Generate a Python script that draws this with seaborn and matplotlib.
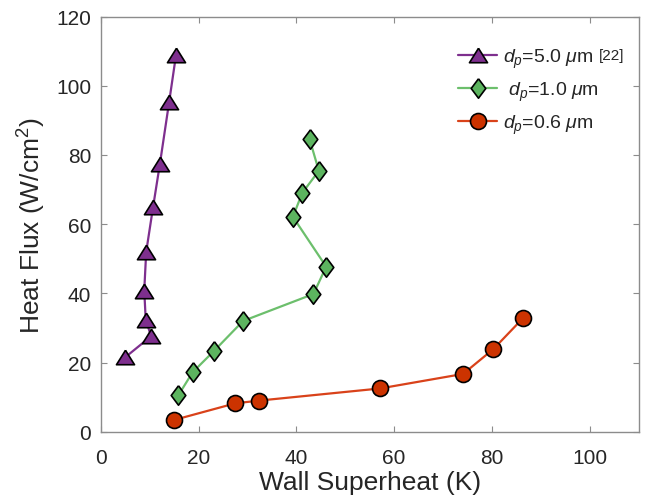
import numpy as np
import matplotlib
matplotlib.use("Agg")
import matplotlib.pyplot as plt
import seaborn as sns

# === data ===
x_50 = [5.0, 10.3, 9.2, 8.9, 9.3, 10.7, 12.1, 14.0, 15.4]
y_50 = [21.5, 27.6, 32.4, 40.8, 52.0, 64.9, 77.4, 95.4, 108.9]

x_10 = [15.9, 18.8, 23.2, 29.1, 43.5, 46.1, 39.3, 41.2, 44.6, 42.7]
y_10 = [10.6, 17.2, 23.4, 32.0, 39.8, 47.7, 62.1, 69.0, 75.4, 84.6]

x_06 = [15.0, 27.5, 32.4, 57.1, 74.1, 80.3, 86.4]
y_06 = [3.4, 8.2, 9.0, 12.5, 16.7, 23.9, 32.9]

labels = [r"$d_p$=5.0 $\mu$m", r" $d_p$=1.0 $\mu$m", r"$d_p$=0.6 $\mu$m"]
ref_tag = "[22]"
xticks = [0, 20, 40, 60, 80, 100]
yticks = [0, 20, 40, 60, 80, 100, 120]

sns.set_theme(style="white")
plt.rcParams["font.family"] = ["Liberation Sans", "DejaVu Sans"]
plt.rcParams["mathtext.fontset"] = "custom"
plt.rcParams["mathtext.rm"] = "Liberation Sans"
plt.rcParams["mathtext.it"] = "Liberation Sans:italic"

# MATLAB-like marker shapes
tri = [(0, 0.8), (-1, -0.8), (1, -0.8), (0, 0.8)]
dia = [(0, 1), (0.75, 0), (0, -1), (-0.75, 0), (0, 1)]

fig = plt.figure(figsize=(6.49, 5.02), dpi=100)
ax = fig.add_axes([0.1552, 0.138, 0.8289, 0.8271])

series = [
    (x_50, y_50, "#7e2f8e", "#7e2f8e", tri, 13, labels[0]),
    (x_10, y_10, "#6cbf6c", "#5cb45f", dia, 14, labels[1]),
    (x_06, y_06, "#d9421a", "#cc3300", "o", 11.5, labels[2]),
]
for xs, ys, lc, fc, mk, ms, lab in series:
    sns.lineplot(x=xs, y=ys, ax=ax, sort=False, estimator=None, color=lc,
                 linewidth=1.6, marker=mk, markersize=ms, markerfacecolor=fc,
                 markeredgecolor="black", markeredgewidth=1.2, label=lab)

ax.set_xlim(0, 110)
ax.set_ylim(0, 120)
ax.set_xticks(xticks)
ax.set_yticks(yticks)
ax.tick_params(direction="in", length=4, width=0.8, colors="#8c8c8c",
               labelcolor="#262626", labelsize=15, top=True, right=True,
               bottom=True, left=True)
ax.tick_params(axis="x", pad=12)
ax.tick_params(axis="y", pad=7)
for s in ax.spines.values():
    s.set_color("#8c8c8c")
    s.set_linewidth(1.0)
ax.set_xlabel("Wall Superheat (K)", fontsize=19, color="#262626", labelpad=2)
ax.set_ylabel(r"Heat Flux (W/cm$^2$)", fontsize=19, color="#262626", labelpad=6)

leg = ax.legend(loc="upper left", bbox_to_anchor=(0.665, 0.928), frameon=False,
                fontsize=14, borderpad=0, borderaxespad=0, handlelength=2.0,
                handletextpad=0.3, labelspacing=0.52)
for t in leg.get_texts():
    t.set_color("#262626")

# small reference tag after the first legend entry
fig.canvas.draw()
bb = leg.get_texts()[0].get_window_extent()
fig.text((bb.x1 + 5) / fig.bbox.width, (bb.y0 + 0.62 * bb.height) / fig.bbox.height,
         ref_tag, va="center", ha="left", fontsize=11, color="#262626")

fig.savefig("out.png", dpi=100)
